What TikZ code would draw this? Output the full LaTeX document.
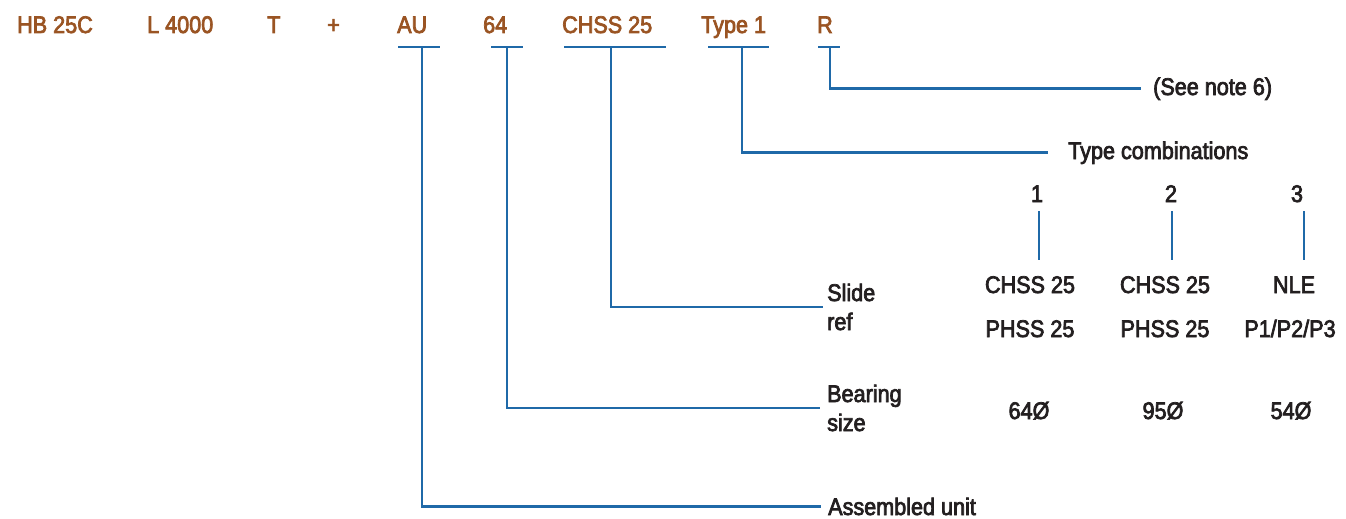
\documentclass[tikz,border=0pt]{standalone}
\usepackage{fontspec}
\setmainfont[FakeStretch=0.9,FakeBold=3]{Liberation Sans}
\definecolor{codebrown}{HTML}{9A5423}
\definecolor{leadblue}{HTML}{1F69A8}
\definecolor{darktext}{HTML}{231F20}
\tikzset{
  codetext/.style={anchor=base west, inner sep=0pt, text=codebrown, font=\fontsize{24}{29}\selectfont},
  desc/.style={anchor=base west, inner sep=0pt, text=darktext, align=left, font=\fontsize{24}{29}\selectfont},
  celltext/.style={anchor=base, inner sep=0pt, text=darktext, font=\fontsize{24}{29}\selectfont},
  lead/.style={draw=leadblue, line width=2.8pt},
}
\begin{document}
\begin{tikzpicture}[x=1pt,y=-1pt]
    \useasboundingbox (0,0) rectangle (1346,519);

    % Kód sor
    \node[codetext] (hb) at (17,33) {HB 25C};
    \node[codetext] (len) at (147,33) {L 4000};
    \node[codetext] (t) at (267,33) {T};
    \node[codetext] (plus) at (327,33) {+};
    \node[codetext] (au) at (397,33) {AU};
    \node[codetext] (bore) at (483,33) {64};
    \node[codetext] (slide) at (562,33) {CHSS 25};
    \node[codetext] (type) at (701,33) {Type 1};
    \node[codetext] (r) at (817,33) {R};

    % Vonalak a kód alatt
    \draw[lead] (398,47) -- (440,47);
    \draw[lead] (491,47) -- (523,47);
    \draw[lead] (564,47) -- (666,47);
    \draw[lead] (708,47) -- (769,47);
    \draw[lead] (818,47) -- (840,47);
    \coordinate (au-tick) at (422,47);
    \coordinate (bore-tick) at (507,47);
    \coordinate (slide-tick) at (611,47);
    \coordinate (type-tick) at (742,47);
    \coordinate (r-tick) at (830,47);

    % Magyarázatok
    \node[desc] (note) at (1153,95) {(See note 6)};
    \node[desc] (combi) at (1068,159) {Type combinations};
    \node[desc] (slideref) at (827,330) {Slide\\ref};
    \node[desc] (bearing) at (827,431) {Bearing\\size};
    \node[desc] (unit) at (828,515) {Assembled unit};

    \draw[lead] (r-tick) |- ([xshift=-12pt]note.west);
    \draw[lead] (type-tick) |- ([xshift=-20pt]combi.west);
    \draw[lead] (slide-tick) |- ([xshift=-4pt]slideref.west);
    \draw[lead] (bore-tick) |- ([xshift=-7pt]bearing.west);
    \draw[lead] (au-tick) |- ([xshift=-7pt]unit.west);

    % Táblázat
    \node[celltext] (n1) at (1037,202) {1};
    \node[celltext] (n2) at (1171,202) {2};
    \node[celltext] (n3) at (1297,202) {3};
    \node[celltext] (a1) at (1030,293) {CHSS 25};
    \node[celltext] (a2) at (1165,293) {CHSS 25};
    \node[celltext] (a3) at (1294,293) {NLE};
    \node[celltext] (b1) at (1030,337) {PHSS 25};
    \node[celltext] (b2) at (1165,337) {PHSS 25};
    \node[celltext] (b3) at (1290,337) {P1/P2/P3};
    \node[celltext] (d1) at (1029,419) {64Ø};
    \node[celltext] (d2) at (1163,419) {95Ø};
    \node[celltext] (d3) at (1291,419) {54Ø};

    \draw[lead] ([xshift=2pt,yshift=-9pt]n1.south) -- ([xshift=9pt,yshift=16pt]a1.north);
    \draw[lead] ([xshift=1pt,yshift=-9pt]n2.south) -- ([xshift=7pt,yshift=16pt]a2.north);
    \draw[lead] ([xshift=7pt,yshift=-9pt]n3.south) -- ([xshift=10pt,yshift=16pt]a3.north);
\end{tikzpicture}
\end{document}
